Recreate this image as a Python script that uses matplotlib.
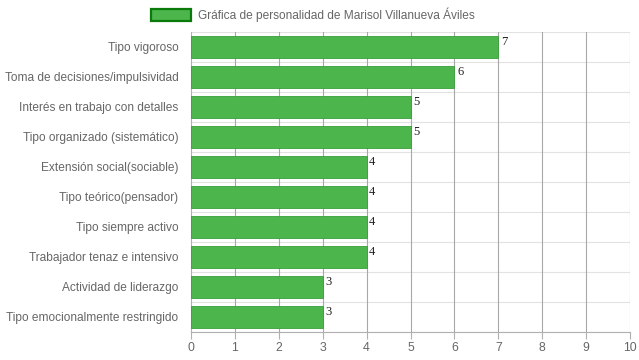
import matplotlib
matplotlib.use('Agg')
import matplotlib.pyplot as plt
import numpy as np
from matplotlib.patches import Rectangle

categories = ['Tipo vigoroso', 'Toma de decisiones/impulsividad',
              'Interés en trabajo con detalles', 'Tipo organizado (sistemático)',
              'Extensión social(sociable)', 'Tipo teórico(pensador)',
              'Tipo siempre activo', 'Trabajador tenaz e intensivo',
              'Actividad de liderazgo', 'Tipo emocionalmente restringido']
values = [7, 6, 5, 5, 4, 4, 4, 4, 3, 3]
x_ticks = list(range(0, 11))
legend_label = 'Gráfica de personalidad de Marisol Villanueva Áviles'

plt.rcParams['font.family'] = ['Liberation Sans', 'DejaVu Sans']

fig = plt.figure(figsize=(6.39, 3.6), dpi=100)
ax = fig.add_axes([191/639, 1-332/360, (630-191)/639, 300/360])

y = np.arange(len(categories))
ax.barh(y, values, height=0.73, color='#4cb54c', edgecolor='#3a9e3a', linewidth=0.6, zorder=3)
for yi, v in zip(y, values):
    ax.text(v + 0.06, yi - 0.36, str(v), family='Liberation Serif', fontsize=9,
            va='top', ha='left', color='#222222', zorder=4)

ax.set_ylim(len(categories) - 0.5, -0.5)
ax.set_xlim(0, 10)
ax.set_yticks(y)
ax.set_yticklabels(categories, fontsize=8.6, color='#666666')
ax.set_xticks(x_ticks)
ax.set_xticklabels([str(t) for t in x_ticks], fontsize=8.8, color='#666666')

# vertical grid (darker) and horizontal grid at category boundaries (lighter)
for t in x_ticks[1:]:
    ax.axvline(t, color='#a8a8a8', linewidth=0.8, zorder=2)
for b in np.arange(-0.5, len(categories), 1.0):
    ax.axhline(b, color='#e2e2e2', linewidth=0.8, zorder=1)

for s in ['top', 'right']:
    ax.spines[s].set_visible(False)
ax.spines['left'].set_color('#b0b0b0')
ax.spines['bottom'].set_color('#b0b0b0')
ax.spines['left'].set_linewidth(0.8)
ax.spines['bottom'].set_linewidth(0.8)
ax.tick_params(axis='x', length=5, color='#b0b0b0', pad=2)
ax.tick_params(axis='y', length=0, pad=9)

# legend
fig.patches.append(Rectangle((151/639, 1-21/360), 40/639, 12/360, transform=fig.transFigure,
                             facecolor='#4cb54c', edgecolor='#0a7a0a', linewidth=1.6))
fig.text(198/639, 1-15/360, legend_label, fontsize=8.6, color='#666666', va='center', ha='left')

fig.savefig('out.png', dpi=100)
